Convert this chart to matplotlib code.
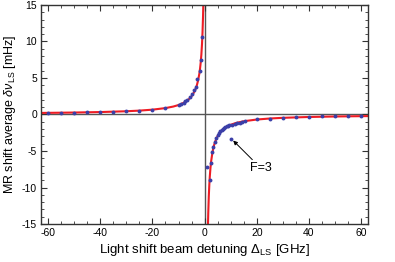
import numpy as np
import matplotlib
matplotlib.use('Agg')
import matplotlib.pyplot as plt
from matplotlib.ticker import MultipleLocator

plt.rcParams['font.family'] = ['Liberation Sans', 'DejaVu Sans']
plt.rcParams['mathtext.fontset'] = 'custom'
plt.rcParams['mathtext.rm'] = 'Liberation Sans'
plt.rcParams['mathtext.it'] = 'Liberation Sans:italic'
plt.rcParams['axes.unicode_minus'] = False

# measured MR shift [mHz] vs detuning [GHz]
det_neg = [-60, -55, -50, -45, -40, -35, -30, -25, -20, -15, -10, -9, -8, -7.5, -6.6, -5.6,
           -4.7, -3.9, -3.3, -2.8, -1.9, -1.5, -1.0]
shift_neg = [0.22, 0.24, 0.25, 0.3, 0.32, 0.4, 0.5, 0.52, 0.68, 0.87, 1.27, 1.45, 1.6, 1.78,
             2.05, 2.4, 2.8, 3.3, 3.8, 4.8, 5.9, 7.5, 10.6]
det_pos = [1.0, 1.9, 2.4, 2.9, 3.3, 3.9, 4.5, 5.0, 5.5, 6.0, 6.5, 7.0, 7.5, 8.0, 8.5, 9.0,
           9.5, 10.5, 11.5, 12.5, 13.5, 14.5, 15.5, 20, 25, 30, 35, 40, 45, 50, 55, 60]
shift_pos = [-7.2, -9.0, -6.6, -5.2, -4.5, -3.7, -3.2, -2.8, -2.5, -2.3, -2.15, -2.0, -1.85,
             -1.7, -1.62, -1.55, -1.5, -1.4, -1.3, -1.2, -1.1, -1.02, -0.95, -0.68, -0.55,
             -0.45, -0.35, -0.33, -0.25, -0.24, -0.22, -0.18]
# F=3 point
det_f3, shift_f3 = 10.2, -3.3

# theory curve, two branches
th_x1 = [-63, -50, -40, -30, -25, -20, -15, -12, -10, -8, -7, -6, -5, -4, -3.5, -3, -2.5, -2,
         -1.75, -1.5, -1.25, -1, -0.8, -0.6, -0.5, -0.45]
th_y1 = [0.213, 0.268, 0.334, 0.444, 0.531, 0.662, 0.877, 1.089, 1.298, 1.607, 1.824, 2.109,
         2.5, 3.068, 3.462, 3.971, 4.655, 5.625, 6.279, 7.105, 8.182, 9.643, 11.25, 13.5, 15.0, 15.88]
th_x2 = [1.25, 1.3, 1.4, 1.6, 1.8, 2.0, 2.25, 2.5, 3, 3.5, 4, 5, 6, 7, 8, 10, 12, 15, 20, 25,
         30, 40, 50, 63]
th_y2 = [-15.88, -15.0, -13.5, -11.25, -9.643, -8.4375, -7.297, -6.429, -5.192, -4.355, -3.75,
         -2.935, -2.411, -2.045, -1.776, -1.406, -1.164, -0.925, -0.689, -0.549, -0.456, -0.340,
         -0.272, -0.216]

fig = plt.figure(figsize=(3.95, 2.62), dpi=100)
ax = fig.add_axes([0.104, 0.145, 0.828, 0.836])

ax.axhline(0, color='#555555', lw=1.0, zorder=1)
ax.axvline(0, color='#555555', lw=1.0, zorder=1)

ax.plot(th_x1, th_y1, color='#ee1c24', lw=1.5, zorder=2)
ax.plot(th_x2, th_y2, color='#ee1c24', lw=1.5, zorder=2)

pc = '#3b3fa8'
ax.plot(det_neg, shift_neg, 'o', color=pc, ms=2.8, mec='none', zorder=3)
ax.plot(det_pos, shift_pos, 'o', color=pc, ms=2.8, mec='none', zorder=3)
ax.plot([det_f3], [shift_f3], 'o', color=pc, ms=2.8, mec='none', zorder=3)

ax.annotate('F=3', xy=(det_f3, shift_f3), xytext=(17.5, -7.8), fontsize=9,
            arrowprops=dict(arrowstyle='-|>', color='black', lw=0.7, mutation_scale=6,
                            shrinkA=0, shrinkB=2))

ax.set_xlim(-62.7, 62.7)
ax.set_ylim(-15, 15)
ax.xaxis.set_major_locator(MultipleLocator(20))
ax.xaxis.set_minor_locator(MultipleLocator(5))
ax.yaxis.set_major_locator(MultipleLocator(5))
ax.yaxis.set_minor_locator(MultipleLocator(1))
ax.tick_params(which='both', direction='in', top=True, right=True, labelsize=7.5,
               color='#333333', pad=3)
ax.tick_params(which='major', length=4, width=0.8)
ax.tick_params(which='minor', length=2, width=0.6)
for s in ax.spines.values():
    s.set_color('#333333')
    s.set_linewidth(1.0)

ax.set_xlabel(r'Light shift beam detuning $\Delta_{\rm LS}$ [GHz]', fontsize=9.5, labelpad=3)
ax.set_ylabel(r'MR shift average $\delta\nu_{\rm LS}$ [mHz]', fontsize=9, labelpad=3)

fig.savefig('out.png', dpi=100)
